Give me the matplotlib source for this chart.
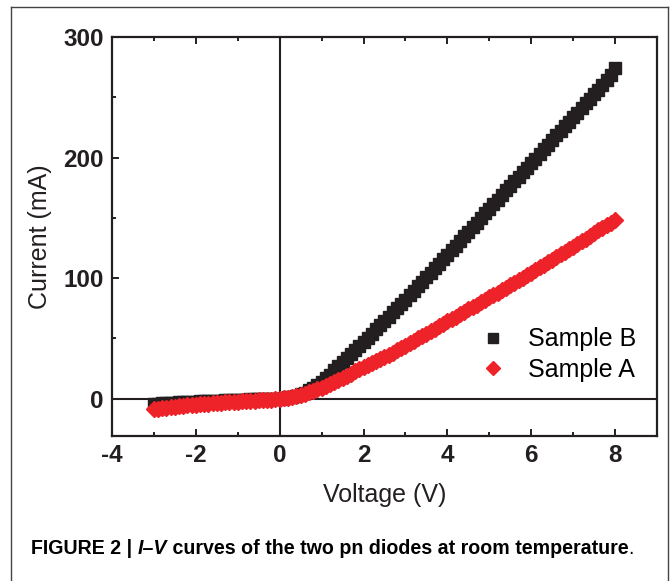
import numpy as np
import matplotlib
matplotlib.use("Agg")
import matplotlib.pyplot as plt
from matplotlib.lines import Line2D
from matplotlib.ticker import MultipleLocator

# I-V sweep, -3 V to 8 V in 0.1 V steps
voltage = [-3.0, -2.9, -2.8, -2.7, -2.6, -2.5, -2.4, -2.3, -2.2, -2.1,
           -2.0, -1.9, -1.8, -1.7, -1.6, -1.5, -1.4, -1.3, -1.2, -1.1,
           -1.0, -0.9, -0.8, -0.7, -0.6, -0.5, -0.4, -0.3, -0.2, -0.1,
           0.0, 0.1, 0.2, 0.3, 0.4, 0.5, 0.6, 0.7, 0.8, 0.9,
           1.0, 1.1, 1.2, 1.3, 1.4, 1.5, 1.6, 1.7, 1.8, 1.9,
           2.0, 2.1, 2.2, 2.3, 2.4, 2.5, 2.6, 2.7, 2.8, 2.9,
           3.0, 3.1, 3.2, 3.3, 3.4, 3.5, 3.6, 3.7, 3.8, 3.9,
           4.0, 4.1, 4.2, 4.3, 4.4, 4.5, 4.6, 4.7, 4.8, 4.9,
           5.0, 5.1, 5.2, 5.3, 5.4, 5.5, 5.6, 5.7, 5.8, 5.9,
           6.0, 6.1, 6.2, 6.3, 6.4, 6.5, 6.6, 6.7, 6.8, 6.9,
           7.0, 7.1, 7.2, 7.3, 7.4, 7.5, 7.6, 7.7, 7.8, 7.9,
           8.0]

# Sample B current (mA)
current_b = [-4.5, -4.2, -4.0, -3.8, -3.6, -3.4, -3.2, -3.0, -2.8, -2.6,
             -2.5, -2.3, -2.2, -2.0, -1.9, -1.7, -1.6, -1.4, -1.3, -1.1,
             -1.0, -0.9, -0.8, -0.7, -0.6, -0.5, -0.4, -0.3, -0.2, -0.1,
             0.0, 0.5, 1.0, 1.7, 2.5, 3.6, 5.0, 6.8, 9.0, 11.3,
             14.0, 17.0, 20.0, 23.5, 27.0, 30.2, 33.5, 36.8, 40.0, 43.5,
             47.0, 50.5, 54.0, 57.5, 61.0, 64.5, 68.0, 71.5, 75.0, 78.5,
             82.0, 85.8, 89.5, 93.2, 97.0, 100.8, 104.5, 108.2, 112.0, 115.8,
             119.5, 123.2, 127.0, 130.9, 134.7, 138.5, 142.3, 146.1, 149.9, 153.7,
             157.5, 161.2, 165.0, 168.9, 172.7, 176.5, 180.3, 184.1, 187.9, 191.7,
             195.5, 199.2, 203.0, 206.9, 210.7, 214.5, 218.3, 222.1, 225.9, 229.7,
             233.5, 237.2, 241.0, 244.9, 248.7, 252.5, 256.3, 260.1, 264.0, 268.5,
             274.0]

# Sample A current (mA)
current_a = [-9.0, -8.5, -8.0, -7.6, -7.2, -6.8, -6.4, -6.0, -5.7, -5.3,
             -5.0, -4.7, -4.5, -4.2, -4.0, -3.7, -3.5, -3.2, -3.0, -2.7,
             -2.5, -2.2, -2.0, -1.8, -1.6, -1.4, -1.2, -1.0, -0.8, -0.6,
             -0.4, 0.2, 0.8, 1.4, 2.0, 3.0, 4.0, 5.2, 6.5, 7.7,
             9.0, 10.5, 12.0, 13.7, 15.5, 17.2, 19.0, 20.7, 22.5, 24.2,
             26.0, 27.7, 29.5, 31.2, 33.0, 34.7, 36.5, 38.2, 40.0, 42.0,
             44.0, 46.0, 48.0, 50.0, 52.0, 54.0, 56.0, 58.0, 60.0, 62.0,
             64.0, 66.0, 68.0, 70.0, 72.0, 74.0, 76.0, 78.0, 80.0, 82.0,
             84.0, 86.0, 88.0, 90.0, 92.0, 94.0, 96.0, 98.0, 100.0, 102.2,
             104.5, 106.7, 109.0, 111.0, 113.0, 115.2, 117.5, 119.7, 122.0, 124.0,
             126.0, 128.2, 130.5, 132.7, 135.0, 137.2, 139.5, 141.7, 144.0, 146.0,
             148.0]

black = "#231f20"
red = "#ee2229"

plt.rcParams['font.family'] = ['Liberation Sans', 'DejaVu Sans']
plt.rcParams['axes.unicode_minus'] = False

fig = plt.figure(figsize=(6.71, 5.81), dpi=100)
ax = fig.add_axes([0.1669, 0.2496, 0.8122, 0.6867])

ax.axhline(0, color=black, lw=1.5, zorder=1)
ax.axvline(0, color=black, lw=1.5, zorder=1)

ax.plot(voltage, current_b, ls='none', marker='s', ms=8.0, color=black,
        mec=black, label="Sample B", zorder=2)
ax.plot(voltage, current_a, ls='none', marker='D', ms=7.8, color=red,
        mec=red, label="Sample A", zorder=3)

ax.set_xlim(-4, 9)
ax.set_ylim(-31, 300)
ax.xaxis.set_major_locator(MultipleLocator(2))
ax.xaxis.set_minor_locator(MultipleLocator(1))
ax.yaxis.set_major_locator(MultipleLocator(100))
ax.yaxis.set_minor_locator(MultipleLocator(50))

for s in ax.spines.values():
    s.set_linewidth(1.6)
    s.set_color(black)

ax.tick_params(which='both', direction='in', top=True, right=False,
               color=black, width=1.4)
ax.tick_params(which='major', length=5, pad=6, labelsize=17.5)
ax.tick_params(which='minor', length=3)
for lab in ax.get_xticklabels() + ax.get_yticklabels():
    lab.set_fontweight('bold')
    lab.set_color(black)

ax.set_xlabel("Voltage (V)", fontsize=18, labelpad=11, color=black)
ax.set_ylabel("Current (mA)", fontsize=18, labelpad=8, color=black)

ax.legend(loc='center left', bbox_to_anchor=(0.677, 0.204), frameon=False,
          fontsize=18, handlelength=0.95, handletextpad=0.95,
          borderpad=0, borderaxespad=0, labelspacing=0.25, markerscale=0.95)

# frame around the figure panel
fr = dict(color="#444444", lw=1.0, transform=fig.transFigure)
fig.add_artist(Line2D([11 / 671, 11 / 671], [0, 1 - 7 / 581], **fr))
fig.add_artist(Line2D([11 / 671, 668 / 671], [1 - 7 / 581, 1 - 7 / 581], **fr))
fig.add_artist(Line2D([668 / 671, 668 / 671], [0, 1 - 7 / 581], **fr))

# caption, built in pieces
cap_y = 1 - 554 / 581
cap_kw = dict(fontsize=14.1, color="black")
t1 = fig.text(31 / 671, cap_y, "FIGURE 2 | ", fontweight='bold', **cap_kw)
t2 = fig.text(0, cap_y, "I–V", fontweight='bold', fontstyle='italic', **cap_kw)
t3 = fig.text(0, cap_y, " curves of the two pn diodes at room temperature", fontweight='bold', **cap_kw)
t4 = fig.text(0, cap_y, ".", **cap_kw)

fig.canvas.draw()
r = fig.canvas.get_renderer()
prev = t1
for t in (t2, t3, t4):
    bb = prev.get_window_extent(r)
    x = fig.transFigure.inverted().transform((bb.x1, bb.y0))[0]
    t.set_x(x)
    fig.canvas.draw()
    prev = t

fig.savefig("out.png", dpi=100)
